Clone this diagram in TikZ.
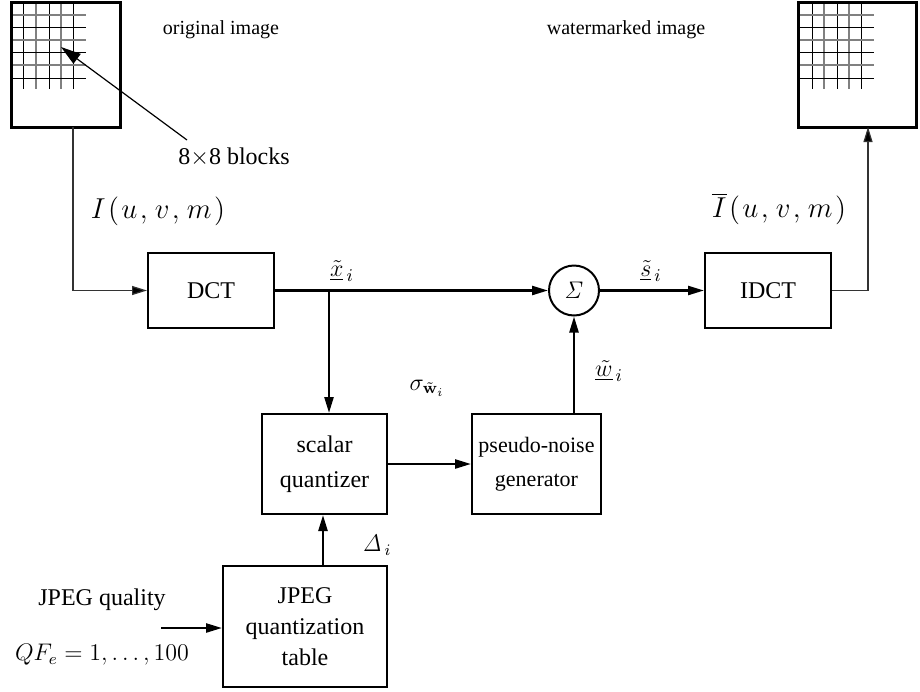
\documentclass[tikz,border=0pt]{standalone}
\usepackage[no-math]{fontspec}
\setmainfont{Liberation Serif}
\usetikzlibrary{arrows.meta}
\begin{document}
\begin{tikzpicture}[x=0.5pt,y=-0.5pt,
  font=\fontsize{12}{14.4}\selectfont,
  blk/.style={draw,line width=1pt,inner sep=0pt,align=center},
  img/.style={draw,line width=1.5pt,inner sep=0pt},
  conn/.style={line width=1.2pt,-{Triangle[length=8pt,width=4.5pt]}},
  lconn/.style={line width=0.6pt,draw=black!80,-{Triangle[length=7.5pt,width=4.5pt,fill=black]}},
  gk/.style={line width=0.5pt,draw=black},
  gg/.style={line width=1pt,draw=black!50},
  lbl/.style={inner sep=0pt},
  biglbl/.style={inner sep=0pt,font=\fontsize{14}{16}\selectfont},
  midlbl/.style={inner sep=0pt,font=\fontsize{13}{15}\selectfont},
  smalllbl/.style={inner sep=0pt,font=\fontsize{10}{12}\selectfont}]
\useasboundingbox (0,0) rectangle (920,691);
% image boxes with block grids
\foreach \gx in {23,49,73} \draw[gk] (\gx,2) -- (\gx,89);
\foreach \gx in {36,61} \draw[gg] (\gx,2) -- (\gx,89);
\foreach \gy in {27,52,78} \draw[gk] (11,\gy) -- (86,\gy);
\foreach \gy in {15,40,65} \draw[gg] (11,\gy) -- (86,\gy);
\node[img,minimum width=54.5pt,minimum height=62.5pt] (orig) at (65.5,64.5) {};
\foreach \gx in {812,837,861} \draw[gk] (\gx,2) -- (\gx,89);
\foreach \gx in {824,849} \draw[gg] (\gx,2) -- (\gx,89);
\foreach \gy in {27,52,78} \draw[gk] (798,\gy) -- (874,\gy);
\foreach \gy in {15,40,65} \draw[gg] (798,\gy) -- (874,\gy);
\node[img,minimum width=59pt,minimum height=62.5pt] (wm) at (857,64.5) {};
% blocks
\node[blk,minimum width=63pt,minimum height=37.5pt] (dct) at (211,290.5) {DCT};
\node[blk,circle,minimum size=25pt] (sig) at (574,290.5) {$\mathit{\Sigma}$};
\node[blk,minimum width=63pt,minimum height=37.5pt] (idct) at (768,290.5) {IDCT};
\node[blk,minimum width=62.5pt,minimum height=50pt] (sq) at (324.5,464) {scalar\\[3pt]quantizer};
\node[blk,minimum width=64.5pt,minimum height=50pt,font=\fontsize{11}{13.2}\selectfont] (pn) at (536.5,464) {pseudo-noise\\[4pt]generator};
\node[blk,minimum width=82pt,minimum height=60.5pt] (jpeg) at (305,626.5) {JPEG\\[1pt]quantization\\[1pt]table};
% labels
\node[smalllbl] (torig) at (221,30) {original image};
\node[smalllbl] (twm) at (626,30) {watermarked image};
\node[lbl,anchor=west] (tblk) at (178,157) {8$\times$8 blocks};
\node[biglbl] (tI) at (158,211) {$I\mkern1.5mu(\mkern1.5mu u\mkern1.5mu,\mkern1.5mu v\mkern1.5mu,\mkern1.5mu m\mkern1.5mu)$};
\node[biglbl] (tIb) at (779,209) {$\overline{I}\mkern1.5mu(\mkern1.5mu u\mkern1.5mu,\mkern1.5mu v\mkern1.5mu,\mkern1.5mu m\mkern1.5mu)$};
\node[midlbl] (tx) at (342,271) {$\underline{\tilde{x}}_{\,i}$};
\node[midlbl] (ts) at (651,271) {$\underline{\tilde{s}}_{\,i}$};
\node[midlbl] (tw) at (609,371) {$\underline{\tilde{w}}_{\,i}$};
\node[lbl] (tsig) at (427,388) {$\sigma_{\tilde{\mathbf{w}}_i}$};
\node[lbl] (tdel) at (377,545) {$\mathit{\Delta}_{\,i}$};
\node[lbl] (tq) at (102,600) {JPEG quality};
\node[lbl] (tqf) at (102,655) {$QF_e=1,\ldots,100$};
% coordinates
\coordinate (bstart) at (187,140);
\coordinate (gridpt) at (61,47);
\coordinate (oout) at (73,127);
\coordinate (wmin) at (868,127);
\coordinate (br) at (329,290.5);
\coordinate (jout) at (323,566);
\coordinate (qin) at (161,628);
% connectors
\draw[line width=0.6pt,-{Triangle[length=10pt,width=6pt]}] (bstart) -- (gridpt);
\draw[lconn] (oout) |- (dct.west);
\draw[conn] (dct.east) -- (sig.west);
\draw[conn] (br) -- (br |- sq.north);
\draw[conn] (sig.east) -- (idct.west);
\draw[lconn] (idct.east) -| (wmin);
\draw[conn] (sq.east) -- (pn.west);
\draw[conn] (pn.north -| sig.south) -- (sig.south);
\draw[conn] (jout) -- (jout |- sq.south);
\draw[conn] (qin) -- (jpeg.west |- qin);
\end{tikzpicture}
\end{document}
